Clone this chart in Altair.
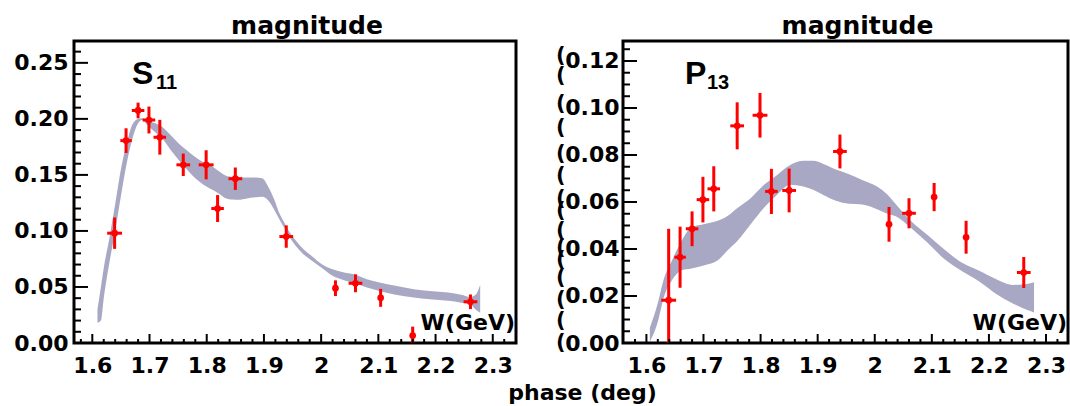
import altair as alt
import pandas as pd

# ---------------- data ----------------
W = [1.639, 1.659, 1.680, 1.699, 1.718, 1.759, 1.799, 1.819, 1.850, 1.939, 2.025, 2.060, 2.104, 2.160, 2.261]
W_err = [0.013, 0.010, 0.011, 0.011, 0.011, 0.012, 0.013, 0.011, 0.012, 0.012, 0.004, 0.012, 0.004, 0.004, 0.012]

S11 = [0.098, 0.1806, 0.2075, 0.199, 0.1836, 0.159, 0.159, 0.120, 0.1466, 0.095, 0.0489, 0.0533, 0.0403, 0.0066, 0.0368]
S11_err = [0.014, 0.011, 0.007, 0.012, 0.0155, 0.010, 0.013, 0.012, 0.010, 0.010, 0.007, 0.008, 0.008, 0.008, 0.0065]

P13 = [0.0182, 0.0365, 0.0486, 0.061, 0.0656, 0.0924, 0.0969, 0.0645, 0.0649, 0.0815, 0.0505, 0.0552, 0.0621, 0.045, 0.030]
P13_err = [0.0304, 0.013, 0.0074, 0.0097, 0.0096, 0.010, 0.0095, 0.0096, 0.0093, 0.0072, 0.0074, 0.0064, 0.006, 0.007, 0.0066]

S11_band_W = [1.609, 1.615, 1.620, 1.630, 1.640, 1.650, 1.660, 1.670, 1.680, 1.687, 1.696, 1.710, 1.722, 1.736,
              1.751, 1.765, 1.780, 1.795, 1.810, 1.822, 1.833, 1.845, 1.856, 1.870, 1.885, 1.897, 1.909, 1.918,
              1.926, 1.935, 1.944, 1.955, 1.967, 1.985, 2.002, 2.020, 2.040, 2.060, 2.080, 2.102, 2.130, 2.162,
              2.190, 2.222, 2.245, 2.260, 2.270, 2.278]
S11_band_hi = [0.030, 0.050, 0.067, 0.094, 0.124, 0.155, 0.178, 0.195, 0.200, 0.2005, 0.1986, 0.196, 0.193, 0.186,
               0.178, 0.172, 0.166, 0.161, 0.1575, 0.153, 0.1494, 0.148, 0.1477, 0.1477, 0.1477, 0.147, 0.138, 0.128,
               0.117, 0.108, 0.0995, 0.092, 0.0847, 0.077, 0.070, 0.0658, 0.063, 0.061, 0.057, 0.054, 0.051, 0.048,
               0.0465, 0.045, 0.043, 0.041, 0.043, 0.052]
S11_band_lo = [0.018, 0.020, 0.040, 0.072, 0.100, 0.131, 0.160, 0.182, 0.196, 0.199, 0.1946, 0.188, 0.1827, 0.173,
               0.1634, 0.155, 0.147, 0.141, 0.1367, 0.133, 0.1292, 0.128, 0.1278, 0.129, 0.130, 0.1305, 0.1263, 0.119,
               0.1114, 0.103, 0.0951, 0.087, 0.0802, 0.073, 0.0668, 0.060, 0.056, 0.053, 0.0495, 0.0465, 0.043, 0.0406,
               0.039, 0.0376, 0.036, 0.0347, 0.030, 0.027]

P13_band_W = [1.606, 1.620, 1.630, 1.645, 1.662, 1.679, 1.702, 1.725, 1.742, 1.760, 1.783, 1.806, 1.829, 1.852,
              1.875, 1.892, 1.910, 1.932, 1.955, 1.978, 2.004, 2.022, 2.040, 2.063, 2.093, 2.123, 2.153, 2.183,
              2.212, 2.242, 2.266, 2.279]
P13_band_hi = [0.0065, 0.017, 0.0268, 0.0352, 0.0436, 0.0492, 0.0506, 0.052, 0.054, 0.0575, 0.0617, 0.0673, 0.0715,
               0.0757, 0.0775, 0.0775, 0.0762, 0.0738, 0.0718, 0.0694, 0.0666, 0.0632, 0.0582, 0.0520, 0.0458, 0.0396,
               0.0341, 0.0307, 0.0272, 0.0247, 0.0251, 0.0258]
P13_band_lo = [0.0005, 0.0090, 0.019, 0.0268, 0.031, 0.0317, 0.0331, 0.0352, 0.0394, 0.0436, 0.0506, 0.0575, 0.0631,
               0.0673, 0.0666, 0.0652, 0.0630, 0.0605, 0.0592, 0.0589, 0.0569, 0.0550, 0.0535, 0.0490, 0.0425, 0.0355,
               0.0305, 0.0262, 0.0210, 0.0168, 0.0141, 0.0130]

x_labels = [1.6, 1.7, 1.8, 1.9, 2.0, 2.1, 2.2, 2.3]
x_minor = [1.58, 1.62, 1.64, 1.66, 1.68, 1.72, 1.74, 1.76, 1.78, 1.82, 1.84, 1.86, 1.88, 1.92, 1.94, 1.96, 1.98,
           2.02, 2.04, 2.06, 2.08, 2.12, 2.14, 2.16, 2.18, 2.22, 2.24, 2.26, 2.28, 2.32]
yS_labels = [0.0, 0.05, 0.10, 0.15, 0.20, 0.25]
yS_minor = [round(0.01 * i, 3) for i in range(1, 27) if i % 5 != 0]
yP_labels = [0.0, 0.02, 0.04, 0.06, 0.08, 0.10, 0.12]
yP_minor = [round(0.005 * i, 4) for i in range(1, 26) if i % 4 != 0]
ghost_marks = [0.0, 0.0092, 0.0185, 0.0277, 0.0355, 0.0405, 0.0476, 0.0561, 0.0611, 0.0710, 0.0803, 0.0916,
               0.1016, 0.1136, 0.1222]

FONT = "DejaVu Sans"
RED = "#ff0000"
BAND = "#a9a8c4"


def panel(vals, errs, bW, bhi, blo, xdom, ydom, ylabels, yminor, main, sub, w, h,
          ylab_pad, main_dx, sub_dx, x_title=None, ghost=None):
    xs = alt.Scale(domain=xdom, nice=False, zero=False)
    ys = alt.Scale(domain=ydom, nice=False, zero=False)
    pts = pd.DataFrame({"W": W, "v": vals, "lo": [v - e for v, e in zip(vals, errs)],
                        "hi": [v + e for v, e in zip(vals, errs)],
                        "wl": [a - b for a, b in zip(W, W_err)], "wh": [a + b for a, b in zip(W, W_err)]})
    band = pd.DataFrame({"W": bW, "hi": bhi, "lo": blo})

    xaxis_kw = dict(values=x_labels, format="~g", ticks=False, domain=False, grid=False,
                    labelFont=FONT, labelFontWeight="bold", labelFontSize=22, labelColor="black",
                    labelPadding=12, labelFlush=False, labelOverlap=False,
                    titleFont=FONT, titleFontWeight="bold", titleFontSize=22, titleColor="black",
                    titleX=508, titleY=56, titleBaseline="alphabetic", titleAlign="center")
    if x_title:
        xaxis = alt.Axis(title=x_title, **xaxis_kw)
    else:
        xaxis = alt.Axis(title="", **xaxis_kw)
    yaxis = alt.Axis(values=ylabels, format=".2f", ticks=False, domain=False, grid=False,
                     labelFont=FONT, labelFontWeight="bold", labelFontSize=22, labelColor="black",
                     labelPadding=ylab_pad, labelFlush=False, labelOverlap=False, title="")

    X = lambda f: alt.X(f, scale=xs, axis=xaxis)
    Y = lambda f: alt.Y(f, scale=ys, axis=yaxis)

    area = alt.Chart(band).mark_area(color=BAND, opacity=1, interpolate="monotone").encode(
        x=X("W:Q"), y=Y("lo:Q"), y2="hi:Q")
    vbar = alt.Chart(pts).mark_rule(color=RED, strokeWidth=3, clip=True).encode(
        x=X("W:Q"), y=Y("lo:Q"), y2="hi:Q")
    hbar = alt.Chart(pts).mark_rule(color=RED, strokeWidth=3).encode(
        x=X("wl:Q"), x2="wh:Q", y=Y("v:Q"))
    dots = alt.Chart(pts).mark_circle(color=RED, size=45, opacity=1).encode(
        x=X("W:Q"), y=Y("v:Q"))

    def yticks(values, length):
        return alt.Chart(pd.DataFrame({"t": values})).mark_rule(color="black", strokeWidth=2).encode(
            y=Y("t:Q"), x=alt.value(0), x2=alt.value(length))

    def xticks(values, length):
        return alt.Chart(pd.DataFrame({"t": values})).mark_rule(color="black", strokeWidth=2).encode(
            x=X("t:Q"), y=alt.value(h), y2=alt.value(h - length))

    lab_main = alt.Chart(pd.DataFrame({"t": [main]})).mark_text(
        align="left", baseline="alphabetic", font="Liberation Sans", fontWeight="bold", fontSize=32,
        color="black").encode(x=alt.value(main_dx), y=alt.value(43), text="t:N")
    lab_sub = alt.Chart(pd.DataFrame({"t": [sub]})).mark_text(
        align="left", baseline="alphabetic", font="Liberation Sans", fontWeight="bold", fontSize=20,
        color="black").encode(x=alt.value(sub_dx), y=alt.value(48), text="t:N")
    wlab = alt.Chart(pd.DataFrame({"t": ["W(GeV)"]})).mark_text(
        align="right", baseline="alphabetic", font=FONT, fontWeight="bold", fontSize=22,
        color="black").encode(x=alt.value(w - 1), y=alt.value(h - 13), text="t:N")

    layers = [area, vbar, hbar, dots,
              yticks(ylabels, 14), yticks(yminor, 7),
              xticks(x_labels, 9), xticks(x_minor, 4),
              lab_main, lab_sub, wlab]
    if ghost is not None:
        layers.append(alt.Chart(pd.DataFrame({"t": ghost})).mark_text(
            text="(", align="left", baseline="middle", font=FONT, fontWeight="bold", fontSize=21,
            color="black").encode(y=Y("t:Q"), x=alt.value(-67)))

    return alt.layer(*layers).properties(
        width=w, height=h,
        title=alt.TitleParams("magnitude", dx=12, offset=-18, baseline="alphabetic", anchor="middle",
                              font=FONT, fontWeight="bold", fontSize=25, color="black"),
    )


left = panel(S11, S11_err, S11_band_W, S11_band_hi, S11_band_lo, [1.568, 2.3406], [0, 0.2695],
             yS_labels, yS_minor, "S", "11", 442, 302, 6, 58, 82, x_title="phase (deg)")
right = panel(P13, P13_err, P13_band_W, P13_band_hi, P13_band_lo, [1.559, 2.3385], [0, 0.1285],
              yP_labels, yP_minor, "P", "13", 445, 302, 4, 62, 84, ghost=ghost_marks)

chart = alt.hconcat(left, right, spacing=107, bounds="flush").properties(
    padding={"left": 12, "top": 12, "right": 0, "bottom": 0},
    background="white",
).configure_view(stroke="black", strokeWidth=3)

chart.save("out.html", embed_options={"renderer": "svg", "actions": False})
